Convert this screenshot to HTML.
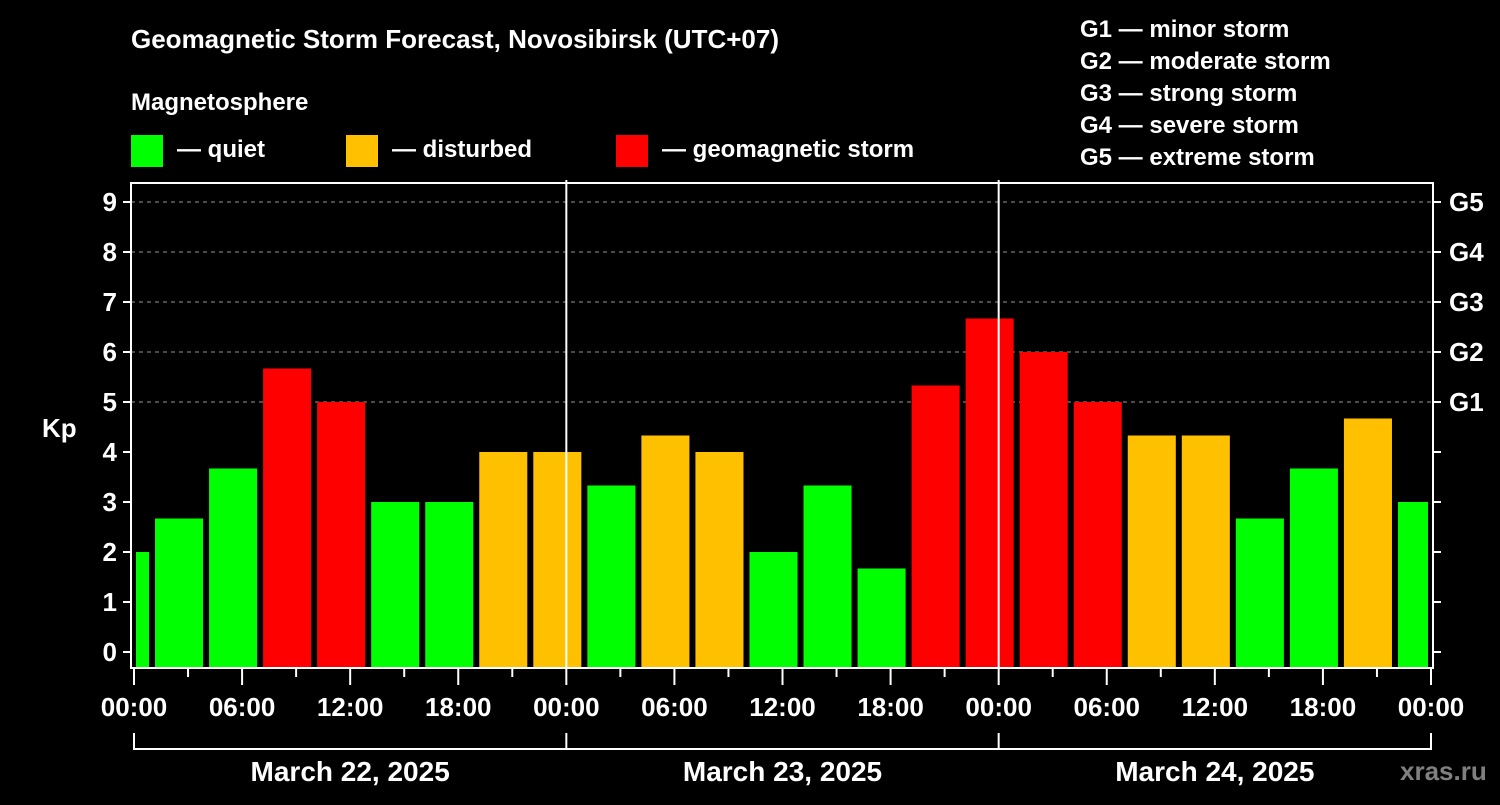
<!DOCTYPE html>
<html><head><meta charset="utf-8"><style>
html,body{margin:0;padding:0;background:#000;}
svg text{font-family:"Liberation Sans",Arial,sans-serif;font-weight:bold;fill:#fff;}
</style></head><body>
<svg id="chart" width="1500" height="800" xmlns="http://www.w3.org/2000/svg">
<rect width="1500" height="800" fill="#000"/>
<text x="131" y="48" font-size="26">Geomagnetic Storm Forecast, Novosibirsk (UTC+07)</text>
<text x="131" y="110" font-size="24">Magnetosphere</text>
<g><rect x="131" y="135" width="32" height="32" fill="#00ff00"/><text x="177" y="157" font-size="24">— quiet</text></g>
<g><rect x="346" y="135" width="32" height="32" fill="#ffc000"/><text x="392" y="157" font-size="24">— disturbed</text></g>
<g><rect x="616" y="135" width="32" height="32" fill="#ff0000"/><text x="662" y="157" font-size="24">— geomagnetic storm</text></g>
<g font-size="24">
<text x="1080" y="37">G1 — minor storm</text>
<text x="1080" y="69">G2 — moderate storm</text>
<text x="1080" y="101">G3 — strong storm</text>
<text x="1080" y="133">G4 — severe storm</text>
<text x="1080" y="165">G5 — extreme storm</text>
</g>
<g id="grid"></g>
<g id="bars"></g>
<g id="axes"></g>
<text x="42" y="437" font-size="26">Kp</text>
<text x="1400" y="780" font-size="26" style="fill:#808080">xras.ru</text>
</svg>
<script>
const kpValues=[2,2.67,3.67,5.67,5,3,3,4,4,3.33,4.33,4,2,3.33,1.67,5.33,6.67,6,5,4.33,4.33,2.67,3.67,4.67,3];
const dayLabels=["March 22, 2025","March 23, 2025","March 24, 2025"];
const yTicks=[0,1,2,3,4,5,6,7,8,9];
const gLabels=["G1","G2","G3","G4","G5"];
const hourLabels=["00:00","06:00","12:00","18:00"];
const NS="http://www.w3.org/2000/svg";
const X0=134,X1=1431,PL=131,PR=1433,PT=183,PB=668;
const hours=72;
function xs(h){return X0+(X1-X0)*h/hours;}
function ys(k){return 652-50*k;}
function mk(tag,attrs,parent){const e=document.createElementNS(NS,tag);for(const k in attrs)e.setAttribute(k,attrs[k]);parent.appendChild(e);return e;}
const grid=document.getElementById('grid'),bars=document.getElementById('bars'),axes=document.getElementById('axes');
for(let k=5;k<=9;k++){const l=mk('line',{x1:PL,x2:PR,y1:ys(k),y2:ys(k),stroke:'#999','stroke-dasharray':'4,4','stroke-width':1},grid);

}
kpValues.forEach((v,i)=>{
 let s=-2+3*i,e=s+3;
 let a=Math.max(xs(s),X0)+3, b=Math.min(xs(e),X1)-3;
 if(i===0)a=xs(0)+2;
 const col=v>=5?'#ff0000':(v>=4?'#ffc000':'#00ff00');
 const r=mk('rect',{x:a,y:ys(v),width:b-a,height:PB-ys(v),fill:col},bars);
 
 
});
// day separators
[1,2].forEach(d=>{const l=mk('line',{x1:xs(24*d),x2:xs(24*d),y1:PT-3,y2:PB,stroke:'#fff','stroke-width':2},axes);

});
const fr=mk('rect',{x:PL,y:PT,width:PR-PL,height:PB-PT,fill:'none',stroke:'#fff','stroke-width':2},axes);


yTicks.forEach(k=>{
 mk('line',{x1:PL-8,x2:PL,y1:ys(k),y2:ys(k),stroke:'#fff','stroke-width':2},axes);
 mk('line',{x1:PR,x2:PR+8,y1:ys(k),y2:ys(k),stroke:'#fff','stroke-width':2},axes);
 const t=mk('text',{x:PL-14,y:ys(k)+9,'font-size':26,'text-anchor':'end'},axes);t.textContent=k;
 
 
 if(k>=5){const g=mk('text',{x:1449,y:ys(k)+9,'font-size':26},axes);g.textContent=gLabels[k-5];
 
 }
});
for(let h=0;h<=hours;h+=3){
 const major=h%6===0;
 mk('line',{x1:xs(h),x2:xs(h),y1:PB,y2:PB+(major?17:9),stroke:'#fff','stroke-width':2},axes);
 if(major){const t=mk('text',{x:xs(h),y:716,'font-size':26,'text-anchor':'middle'},axes);t.textContent=hourLabels[(h/6)%4];
 
 }
}
mk('path',{d:`M${xs(0)},733 V749 H${xs(72)} V733 M${xs(24)},733 V749 M${xs(48)},733 V749`,stroke:'#fff','stroke-width':2,fill:'none'},axes);
dayLabels.forEach((d,i)=>{const t=mk('text',{x:xs(24*i+12),y:781,'font-size':28,'text-anchor':'middle'},axes);t.textContent=d;

});
</script>
</body></html>
